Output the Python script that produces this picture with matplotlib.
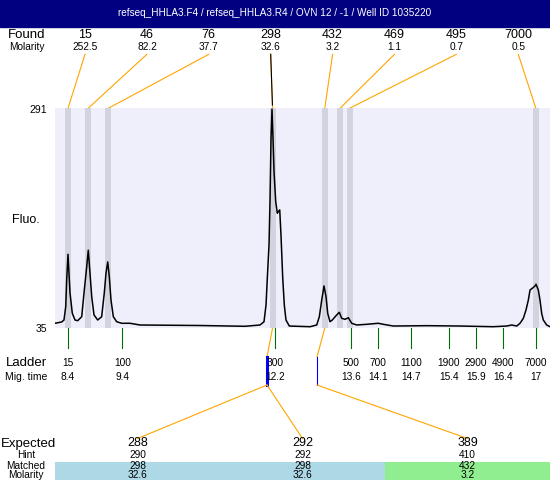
import matplotlib
matplotlib.use('Agg')
import matplotlib.pyplot as plt
from matplotlib.patches import Rectangle

plt.rcParams['font.family'] = ['Liberation Sans', 'DejaVu Sans']

title = 'refseq_HHLA3.F4 / refseq_HHLA3.R4 / OVN 12 / -1 / Well ID 1035220'

# found peaks
found_size = ['15', '46', '76', '298', '432', '469', '495', '7000']
found_molarity = ['252.5', '82.2', '37.7', '32.6', '3.2', '1.1', '0.7', '0.5']
found_time = [8.40, 8.77, 9.14, 12.16, 13.12, 13.40, 13.575, 17.00]

# ladder
ladder_size = [15, 100, 300, 500, 700, 1100, 1900, 2900, 4900, 7000]
ladder_time = [8.4, 9.4, 12.2, 13.6, 14.1, 14.7, 15.4, 15.9, 16.4, 17]

# expected fragments
expected = ['288', '292', '389']
hint = ['290', '292', '410']
matched = ['298', '298', '432']
matched_molarity = ['32.6', '32.6', '3.2']
matched_peak = [3, 3, 4]          # index into found_*
matched_color = ['#ADD8E6', '#ADD8E6', '#90EE90']

# electropherogram (migration time, fluorescence)
trace_time = [8.161, 8.284, 8.326, 8.358, 8.376, 8.400, 8.437, 8.479, 8.529, 8.578,
              8.652, 8.700, 8.744, 8.773, 8.804, 8.836, 8.878, 8.946, 9.019, 9.067,
              9.099, 9.130, 9.159, 9.190, 9.233, 9.295, 9.387, 9.540, 9.724, 10.826,
              11.654, 11.929, 12.003, 12.040, 12.064, 12.095, 12.113, 12.132, 12.150, 12.168,
              12.187, 12.218, 12.248, 12.266, 12.292, 12.315, 12.347, 12.376, 12.407, 12.468,
              12.849, 12.972, 13.020, 13.064, 13.106, 13.143, 13.174, 13.216, 13.258, 13.339,
              13.387, 13.431, 13.492, 13.553, 13.615, 13.707, 13.891, 14.104, 14.196, 14.380,
              14.994, 15.606, 16.218, 16.464, 16.556, 16.648, 16.709, 16.770, 16.819, 16.862,
              16.893, 16.935, 16.985, 17.003, 17.045, 17.076, 17.107, 17.137, 17.199, 17.260]
trace_fluo = [40.5, 42.0, 44.3, 59.8, 91.0, 120.9, 75.8, 52.1, 44.3, 43.5,
              48.2, 79.3, 106.5, 125.6, 99.1, 71.5, 50.2, 44.3, 48.2, 75.8,
              99.1, 112.0, 94.8, 67.6, 48.2, 42.3, 40.5, 40.5, 38.5, 37.9,
              37.0, 38.5, 42.3, 61.8, 93.3, 131.8, 182.3, 256.5, 290.0, 256.5,
              217.2, 182.3, 168.7, 170.6, 172.6, 143.4, 93.3, 61.8, 44.3, 37.3,
              36.5, 38.5, 48.2, 67.6, 84.0, 71.5, 52.1, 42.3, 44.3, 50.2,
              53.3, 46.3, 45.1, 47.0, 40.5, 38.5, 39.3, 40.5, 39.3, 37.3,
              37.7, 37.3, 36.5, 37.3, 38.5, 37.3, 40.5, 46.3, 56.0, 67.6,
              79.3, 81.3, 84.0, 86.0, 79.3, 67.6, 52.1, 44.3, 38.5, 36.5]

FLUO_MIN, FLUO_MAX = 35, 291
ORANGE = '#FFA500'
GREEN = '#007000'

W, H = 550, 480
fig = plt.figure(figsize=(5.5, 4.8), dpi=100)

# overlay in pixel units for the text rows
ov = fig.add_axes([0, 0, 1, 1])
ov.set_xlim(0, W)
ov.set_ylim(H, 0)
ov.axis('off')

# plot area
L, T, R, B = 55, 108.3, 550, 328
ax = fig.add_axes([L / W, 1 - B / H, (R - L) / W, (B - T) / H])
ax.set_xlim(8.161, 17.26)
ax.set_ylim(FLUO_MIN, FLUO_MAX)
ax.set_facecolor('#EFEFFB')
ax.set_xticks([])
ax.set_yticks([])
for s in ax.spines.values():
    s.set_visible(False)

for t in found_time:
    ax.axvspan(t - 0.055, t + 0.055, color='#D3D3DF', lw=0, zorder=1)
ax.plot(trace_time, trace_fluo, color='black', lw=1.1, zorder=3)


def px(t):
    return ov.transData.inverted().transform(ax.transData.transform((t, FLUO_MAX)))[0]


# header
ov.add_patch(Rectangle((0, 0), W, 26.7, color='#000080'))
ov.text(W / 2, 13.5, title, color='white', fontsize=7.2, ha='center', va='center')

# found row
ov.text(27, 34.5, 'Found', fontsize=9.5, ha='center', va='center')
ov.text(27, 47, 'Molarity', fontsize=7.3, ha='center', va='center')
for i in range(len(found_size)):
    lx = 85 + i * 61.9
    ov.text(lx, 34.5, found_size[i], fontsize=9, ha='center', va='center')
    ov.text(lx, 47, found_molarity[i], fontsize=7.3, ha='center', va='center')
    bx = px(found_time[i])
    ov.plot([lx, bx], [54.3, T], color=ORANGE, lw=0.8)
    if i == 3:
        # tallest peak: connector drawn dark down to just above the plot
        ov.plot([lx, lx + (bx - lx) * 0.94], [54.3, 105], color='black', lw=0.8)

# y labels
ov.text(47, 110, str(FLUO_MAX), fontsize=7.5, ha='right', va='center')
ov.text(47, 329.5, str(FLUO_MIN), fontsize=7.5, ha='right', va='center')
ov.text(26, 220, 'Fluo.', fontsize=9, ha='center', va='center')

# ladder
ov.text(26, 363, 'Ladder', fontsize=9.5, ha='center', va='center')
ov.text(26, 377, 'Mig. time', fontsize=7.5, ha='center', va='center')
for s, t in zip(ladder_size, ladder_time):
    x = px(t)
    ov.plot([x, x], [B, 347.5], color=GREEN, lw=0.8)
    ov.text(x, 363, str(s), fontsize=7.3, ha='center', va='center')
    ov.text(x, 377, '%g' % t, fontsize=7.3, ha='center', va='center')

# links from matched peaks down to expected fragments
col_w = (R - L) / 3
hub_x = {3: 267, 4: 317}
for k, hx in hub_x.items():
    n = matched_peak.count(k)
    ov.plot([px(found_time[k]), hx], [B, 357], color=ORANGE, lw=0.8)
    ov.plot([hx, hx], [357, 385], color='#0000FF', lw=0.8 + 1.4 * (n - 1))
for i in range(len(expected)):
    cx = L + (i + 0.5) * col_w
    ov.plot([hub_x[matched_peak[i]], cx], [385, 438.5], color=ORANGE, lw=0.8)
    ov.add_patch(Rectangle((L + i * col_w, 462), col_w, H - 462, color=matched_color[i], lw=0))
    ov.text(cx, 443.5, expected[i], fontsize=9, ha='center', va='center')
    ov.text(cx, 455.5, hint[i], fontsize=7.3, ha='center', va='center')
    ov.text(cx, 466, matched[i], fontsize=7.3, ha='center', va='center')
    ov.text(cx, 475.5, matched_molarity[i], fontsize=7.3, ha='center', va='center')

ov.text(28, 443.5, 'Expected', fontsize=9.5, ha='center', va='center')
ov.text(26, 455.5, 'Hint', fontsize=7.3, ha='center', va='center')
ov.text(26, 466, 'Matched', fontsize=7.3, ha='center', va='center')
ov.text(26, 475.5, 'Molarity', fontsize=7.3, ha='center', va='center')

fig.savefig('out.png', dpi=100)
